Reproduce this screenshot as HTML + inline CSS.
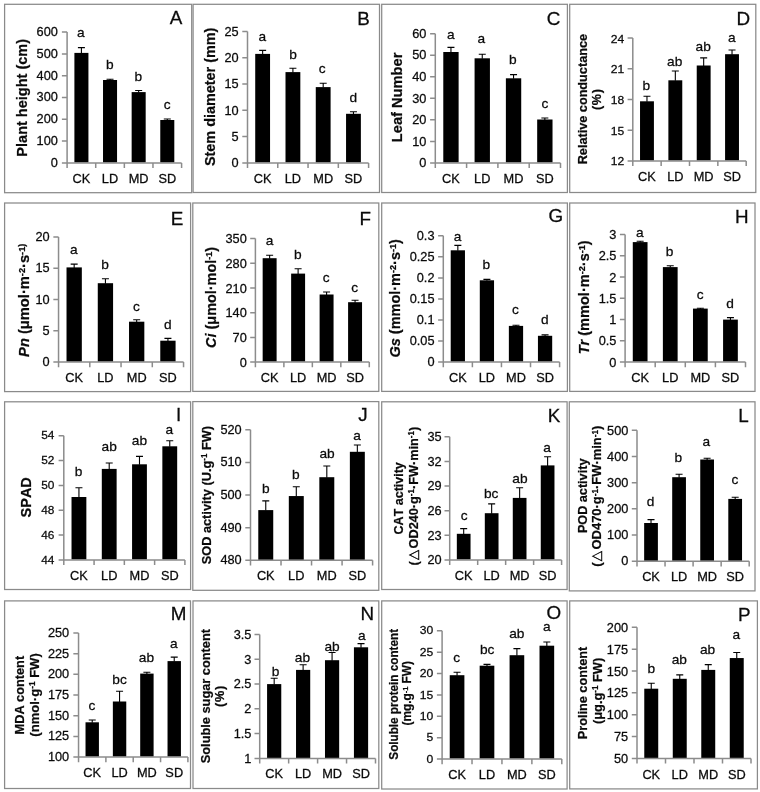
<!DOCTYPE html>
<html lang="en">
<head>
<meta charset="utf-8">
<title>Figure</title>
<style>html,body{margin:0;padding:0;background:#fff}svg{display:block}</style>
</head>
<body>
<svg width="760" height="792" viewBox="0 0 760 792" font-family='"Liberation Sans", "DejaVu Sans", sans-serif' fill="#0a0a0a" style="font-kerning:none">
<rect x="0" y="0" width="760" height="792" fill="#ffffff"/>
<g>
<rect x="4.6" y="4.3" width="187.1" height="188.4" fill="#ffffff" stroke="#8a8a8a" stroke-width="1.25"/>
<rect x="74.4" y="52.9" width="14.03" height="109.6" fill="#000000"/>
<path d="M81.41 53.4V47.6M77.91 47.6H84.91" stroke="#000000" stroke-width="1.1" fill="none"/>
<rect x="103.02" y="80" width="14.03" height="82.5" fill="#000000"/>
<path d="M110.04 80.5V79.3M106.54 79.3H113.54" stroke="#000000" stroke-width="1.1" fill="none"/>
<rect x="131.65" y="92.1" width="14.03" height="70.4" fill="#000000"/>
<path d="M138.66 92.6V90.5M135.16 90.5H142.16" stroke="#000000" stroke-width="1.1" fill="none"/>
<rect x="160.27" y="120" width="14.03" height="42.5" fill="#000000"/>
<path d="M167.29 120.5V119M163.79 119H170.79" stroke="#000000" stroke-width="1.1" fill="none"/>
<path d="M67.1 32.1V168.1M61.9 162.9H181.6M61.9 141.1H67.1M61.9 119.3H67.1M61.9 97.5H67.1M61.9 75.7H67.1M61.9 53.9H67.1M61.9 32.1H67.1M95.72 162.9V168.1M124.35 162.9V168.1M152.97 162.9V168.1M181.6 162.9V168.1" stroke="#8c8c8c" stroke-width="1.5" fill="none"/>
<text transform="translate(57.9 166.76) scale(1.03 1)" text-anchor="end" font-size="12.4" stroke="#0a0a0a" stroke-width="0.25">0</text>
<text transform="translate(57.9 144.96) scale(1.03 1)" text-anchor="end" font-size="12.4" stroke="#0a0a0a" stroke-width="0.25">100</text>
<text transform="translate(57.9 123.16) scale(1.03 1)" text-anchor="end" font-size="12.4" stroke="#0a0a0a" stroke-width="0.25">200</text>
<text transform="translate(57.9 101.36) scale(1.03 1)" text-anchor="end" font-size="12.4" stroke="#0a0a0a" stroke-width="0.25">300</text>
<text transform="translate(57.9 79.56) scale(1.03 1)" text-anchor="end" font-size="12.4" stroke="#0a0a0a" stroke-width="0.25">400</text>
<text transform="translate(57.9 57.76) scale(1.03 1)" text-anchor="end" font-size="12.4" stroke="#0a0a0a" stroke-width="0.25">500</text>
<text transform="translate(57.9 35.96) scale(1.03 1)" text-anchor="end" font-size="12.4" stroke="#0a0a0a" stroke-width="0.25">600</text>
<text transform="translate(81.41 183.2) scale(1.04 1)" text-anchor="middle" font-size="12.3" stroke="#0a0a0a" stroke-width="0.25">CK</text>
<text transform="translate(110.04 183.2) scale(1.04 1)" text-anchor="middle" font-size="12.3" stroke="#0a0a0a" stroke-width="0.25">LD</text>
<text transform="translate(138.66 183.2) scale(1.04 1)" text-anchor="middle" font-size="12.3" stroke="#0a0a0a" stroke-width="0.25">MD</text>
<text transform="translate(167.29 183.2) scale(1.04 1)" text-anchor="middle" font-size="12.3" stroke="#0a0a0a" stroke-width="0.25">SD</text>
<text transform="translate(80.9 36.6) scale(1.03 1)" text-anchor="middle" font-size="13.3" stroke="#0a0a0a" stroke-width="0.25">a</text>
<text transform="translate(109.9 69.3) scale(1.03 1)" text-anchor="middle" font-size="13.3" stroke="#0a0a0a" stroke-width="0.25">b</text>
<text transform="translate(138.2 80.5) scale(1.03 1)" text-anchor="middle" font-size="13.3" stroke="#0a0a0a" stroke-width="0.25">b</text>
<text transform="translate(167.1 108.7) scale(1.03 1)" text-anchor="middle" font-size="13.3" stroke="#0a0a0a" stroke-width="0.25">c</text>
<text transform="translate(176.15 23.9) scale(1.07 1)" text-anchor="middle" font-size="17.6" stroke="#0a0a0a" stroke-width="0.25">A</text>
<text transform="translate(27.3 97.8) rotate(-90) scale(1 1.04)" text-anchor="middle" font-weight="bold" stroke="#0a0a0a" stroke-width="0.22" font-size="14.51" xml:space="preserve"><tspan>Plant height (cm)</tspan></text>
</g>
<g>
<rect x="193.1" y="4.3" width="186.4" height="188.2" fill="#ffffff" stroke="#8a8a8a" stroke-width="1.25"/>
<rect x="255.22" y="53.9" width="14.83" height="108.6" fill="#000000"/>
<path d="M262.64 54.4V50.4M259.14 50.4H266.14" stroke="#000000" stroke-width="1.1" fill="none"/>
<rect x="285.5" y="72.1" width="14.83" height="90.4" fill="#000000"/>
<path d="M292.91 72.6V68.2M289.41 68.2H296.41" stroke="#000000" stroke-width="1.1" fill="none"/>
<rect x="315.77" y="87.1" width="14.83" height="75.4" fill="#000000"/>
<path d="M323.19 87.6V83.3M319.69 83.3H326.69" stroke="#000000" stroke-width="1.1" fill="none"/>
<rect x="346.05" y="113.8" width="14.83" height="48.7" fill="#000000"/>
<path d="M353.46 114.3V111.8M349.96 111.8H356.96" stroke="#000000" stroke-width="1.1" fill="none"/>
<path d="M247.5 31.4V168.1M242.3 162.9H368.6M242.3 136.6H247.5M242.3 110.3H247.5M242.3 84H247.5M242.3 57.7H247.5M242.3 31.4H247.5M277.77 162.9V168.1M308.05 162.9V168.1M338.33 162.9V168.1M368.6 162.9V168.1" stroke="#8c8c8c" stroke-width="1.5" fill="none"/>
<text transform="translate(238.6 167.26) scale(1.03 1)" text-anchor="end" font-size="12.4" stroke="#0a0a0a" stroke-width="0.25">0</text>
<text transform="translate(238.6 140.96) scale(1.03 1)" text-anchor="end" font-size="12.4" stroke="#0a0a0a" stroke-width="0.25">5</text>
<text transform="translate(238.6 114.66) scale(1.03 1)" text-anchor="end" font-size="12.4" stroke="#0a0a0a" stroke-width="0.25">10</text>
<text transform="translate(238.6 88.36) scale(1.03 1)" text-anchor="end" font-size="12.4" stroke="#0a0a0a" stroke-width="0.25">15</text>
<text transform="translate(238.6 62.06) scale(1.03 1)" text-anchor="end" font-size="12.4" stroke="#0a0a0a" stroke-width="0.25">20</text>
<text transform="translate(238.6 35.76) scale(1.03 1)" text-anchor="end" font-size="12.4" stroke="#0a0a0a" stroke-width="0.25">25</text>
<text transform="translate(262.64 183.2) scale(1.04 1)" text-anchor="middle" font-size="12.3" stroke="#0a0a0a" stroke-width="0.25">CK</text>
<text transform="translate(292.91 183.2) scale(1.04 1)" text-anchor="middle" font-size="12.3" stroke="#0a0a0a" stroke-width="0.25">LD</text>
<text transform="translate(323.19 183.2) scale(1.04 1)" text-anchor="middle" font-size="12.3" stroke="#0a0a0a" stroke-width="0.25">MD</text>
<text transform="translate(353.46 183.2) scale(1.04 1)" text-anchor="middle" font-size="12.3" stroke="#0a0a0a" stroke-width="0.25">SD</text>
<text transform="translate(262.4 40.7) scale(1.03 1)" text-anchor="middle" font-size="13.3" stroke="#0a0a0a" stroke-width="0.25">a</text>
<text transform="translate(293 58.8) scale(1.03 1)" text-anchor="middle" font-size="13.3" stroke="#0a0a0a" stroke-width="0.25">b</text>
<text transform="translate(322.2 73.2) scale(1.03 1)" text-anchor="middle" font-size="13.3" stroke="#0a0a0a" stroke-width="0.25">c</text>
<text transform="translate(353.2 101.8) scale(1.03 1)" text-anchor="middle" font-size="13.3" stroke="#0a0a0a" stroke-width="0.25">d</text>
<text transform="translate(363.45 25.3) scale(1.07 1)" text-anchor="middle" font-size="17.6" stroke="#0a0a0a" stroke-width="0.25">B</text>
<text transform="translate(215.3 96.85) rotate(-90) scale(1 1.04)" text-anchor="middle" font-weight="bold" stroke="#0a0a0a" stroke-width="0.22" font-size="14.41" xml:space="preserve"><tspan>Stem diameter (mm)</tspan></text>
</g>
<g>
<rect x="381.7" y="4.3" width="185.7" height="188.2" fill="#ffffff" stroke="#8a8a8a" stroke-width="1.25"/>
<rect x="443.28" y="52" width="15.34" height="110.5" fill="#000000"/>
<path d="M450.95 52.5V47.4M447.45 47.4H454.45" stroke="#000000" stroke-width="1.1" fill="none"/>
<rect x="474.58" y="58.3" width="15.34" height="104.2" fill="#000000"/>
<path d="M482.25 58.8V54.3M478.75 54.3H485.75" stroke="#000000" stroke-width="1.1" fill="none"/>
<rect x="505.88" y="78.3" width="15.34" height="84.2" fill="#000000"/>
<path d="M513.55 78.8V74.6M510.05 74.6H517.05" stroke="#000000" stroke-width="1.1" fill="none"/>
<rect x="537.18" y="119.5" width="15.34" height="43" fill="#000000"/>
<path d="M544.85 120V118M541.35 118H548.35" stroke="#000000" stroke-width="1.1" fill="none"/>
<path d="M435.3 33.8V168.1M430.1 162.9H560.5M430.1 141.38H435.3M430.1 119.87H435.3M430.1 98.35H435.3M430.1 76.83H435.3M430.1 55.32H435.3M430.1 33.8H435.3M466.6 162.9V168.1M497.9 162.9V168.1M529.2 162.9V168.1M560.5 162.9V168.1" stroke="#8c8c8c" stroke-width="1.5" fill="none"/>
<text transform="translate(426.35 167.06) scale(1.03 1)" text-anchor="end" font-size="12.4" stroke="#0a0a0a" stroke-width="0.25">0</text>
<text transform="translate(426.35 145.55) scale(1.03 1)" text-anchor="end" font-size="12.4" stroke="#0a0a0a" stroke-width="0.25">10</text>
<text transform="translate(426.35 124.03) scale(1.03 1)" text-anchor="end" font-size="12.4" stroke="#0a0a0a" stroke-width="0.25">20</text>
<text transform="translate(426.35 102.51) scale(1.03 1)" text-anchor="end" font-size="12.4" stroke="#0a0a0a" stroke-width="0.25">30</text>
<text transform="translate(426.35 81) scale(1.03 1)" text-anchor="end" font-size="12.4" stroke="#0a0a0a" stroke-width="0.25">40</text>
<text transform="translate(426.35 59.48) scale(1.03 1)" text-anchor="end" font-size="12.4" stroke="#0a0a0a" stroke-width="0.25">50</text>
<text transform="translate(426.35 37.96) scale(1.03 1)" text-anchor="end" font-size="12.4" stroke="#0a0a0a" stroke-width="0.25">60</text>
<text transform="translate(450.95 183.2) scale(1.04 1)" text-anchor="middle" font-size="12.3" stroke="#0a0a0a" stroke-width="0.25">CK</text>
<text transform="translate(482.25 183.2) scale(1.04 1)" text-anchor="middle" font-size="12.3" stroke="#0a0a0a" stroke-width="0.25">LD</text>
<text transform="translate(513.55 183.2) scale(1.04 1)" text-anchor="middle" font-size="12.3" stroke="#0a0a0a" stroke-width="0.25">MD</text>
<text transform="translate(544.85 183.2) scale(1.04 1)" text-anchor="middle" font-size="12.3" stroke="#0a0a0a" stroke-width="0.25">SD</text>
<text transform="translate(450.7 38.6) scale(1.03 1)" text-anchor="middle" font-size="13.3" stroke="#0a0a0a" stroke-width="0.25">a</text>
<text transform="translate(481.3 43) scale(1.03 1)" text-anchor="middle" font-size="13.3" stroke="#0a0a0a" stroke-width="0.25">a</text>
<text transform="translate(512.9 63.8) scale(1.03 1)" text-anchor="middle" font-size="13.3" stroke="#0a0a0a" stroke-width="0.25">b</text>
<text transform="translate(544.9 107.8) scale(1.03 1)" text-anchor="middle" font-size="13.3" stroke="#0a0a0a" stroke-width="0.25">c</text>
<text transform="translate(553.55 24.7) scale(1.07 1)" text-anchor="middle" font-size="17.6" stroke="#0a0a0a" stroke-width="0.25">C</text>
<text transform="translate(402.4 97.4) rotate(-90) scale(1 1.04)" text-anchor="middle" font-weight="bold" stroke="#0a0a0a" stroke-width="0.22" font-size="14.66" xml:space="preserve"><tspan>Leaf Number</tspan></text>
</g>
<g>
<rect x="569.7" y="4.3" width="186.1" height="188.2" fill="#ffffff" stroke="#8a8a8a" stroke-width="1.25"/>
<rect x="640.03" y="101.3" width="13.89" height="59.2" fill="#000000"/>
<path d="M646.97 101.8V96.3M643.47 96.3H650.47" stroke="#000000" stroke-width="1.1" fill="none"/>
<rect x="668.38" y="80.3" width="13.89" height="80.2" fill="#000000"/>
<path d="M675.33 80.8V71.05M671.83 71.05H678.83" stroke="#000000" stroke-width="1.1" fill="none"/>
<rect x="696.73" y="65.5" width="13.89" height="95" fill="#000000"/>
<path d="M703.67 66V57.9M700.17 57.9H707.17" stroke="#000000" stroke-width="1.1" fill="none"/>
<rect x="725.08" y="54.2" width="13.89" height="106.3" fill="#000000"/>
<path d="M732.03 54.7V50M728.53 50H735.53" stroke="#000000" stroke-width="1.1" fill="none"/>
<path d="M632.8 38.1V166.1M627.6 160.9H746.2M627.6 130.2H632.8M627.6 99.5H632.8M627.6 68.8H632.8M627.6 38.1H632.8M661.15 160.9V166.1M689.5 160.9V166.1M717.85 160.9V166.1M746.2 160.9V166.1" stroke="#8c8c8c" stroke-width="1.5" fill="none"/>
<text transform="translate(624.2 165.34) scale(1.03 1)" text-anchor="end" font-size="11.78" stroke="#0a0a0a" stroke-width="0.25">12</text>
<text transform="translate(624.2 134.64) scale(1.03 1)" text-anchor="end" font-size="11.78" stroke="#0a0a0a" stroke-width="0.25">15</text>
<text transform="translate(624.2 103.94) scale(1.03 1)" text-anchor="end" font-size="11.78" stroke="#0a0a0a" stroke-width="0.25">18</text>
<text transform="translate(624.2 73.24) scale(1.03 1)" text-anchor="end" font-size="11.78" stroke="#0a0a0a" stroke-width="0.25">21</text>
<text transform="translate(624.2 42.54) scale(1.03 1)" text-anchor="end" font-size="11.78" stroke="#0a0a0a" stroke-width="0.25">24</text>
<text transform="translate(646.97 181.3) scale(1.04 1)" text-anchor="middle" font-size="12.3" stroke="#0a0a0a" stroke-width="0.25">CK</text>
<text transform="translate(675.33 181.3) scale(1.04 1)" text-anchor="middle" font-size="12.3" stroke="#0a0a0a" stroke-width="0.25">LD</text>
<text transform="translate(703.67 181.3) scale(1.04 1)" text-anchor="middle" font-size="12.3" stroke="#0a0a0a" stroke-width="0.25">MD</text>
<text transform="translate(732.03 181.3) scale(1.04 1)" text-anchor="middle" font-size="12.3" stroke="#0a0a0a" stroke-width="0.25">SD</text>
<text transform="translate(646.3 89.7) scale(1.03 1)" text-anchor="middle" font-size="13.3" stroke="#0a0a0a" stroke-width="0.25">b</text>
<text transform="translate(674.7 65.6) scale(1.03 1)" text-anchor="middle" font-size="13.3" stroke="#0a0a0a" stroke-width="0.25">ab</text>
<text transform="translate(703.2 51.25) scale(1.03 1)" text-anchor="middle" font-size="13.3" stroke="#0a0a0a" stroke-width="0.25">ab</text>
<text transform="translate(731.7 42.3) scale(1.03 1)" text-anchor="middle" font-size="13.3" stroke="#0a0a0a" stroke-width="0.25">a</text>
<text transform="translate(743.35 25) scale(1.07 1)" text-anchor="middle" font-size="17.6" stroke="#0a0a0a" stroke-width="0.25">D</text>
<text transform="translate(586.7 99.15) rotate(-90) scale(1 1.04)" text-anchor="middle" font-weight="bold" stroke="#0a0a0a" stroke-width="0.22" font-size="12.7" xml:space="preserve"><tspan>Relative conductance</tspan></text>
<text transform="translate(601 99.2) rotate(-90) scale(1 1.04)" text-anchor="middle" font-weight="bold" stroke="#0a0a0a" stroke-width="0.22" font-size="12.6" letter-spacing="0.75" xml:space="preserve"><tspan>(%)</tspan></text>
</g>
<g>
<rect x="4.6" y="203" width="186" height="188.6" fill="#ffffff" stroke="#8a8a8a" stroke-width="1.25"/>
<rect x="66.52" y="267.4" width="15.31" height="94.3" fill="#000000"/>
<path d="M74.17 267.9V264.1M70.67 264.1H77.67" stroke="#000000" stroke-width="1.1" fill="none"/>
<rect x="97.77" y="283.2" width="15.31" height="78.5" fill="#000000"/>
<path d="M105.43 283.7V278.8M101.93 278.8H108.93" stroke="#000000" stroke-width="1.1" fill="none"/>
<rect x="129.02" y="321.7" width="15.31" height="40" fill="#000000"/>
<path d="M136.68 322.2V319.7M133.18 319.7H140.18" stroke="#000000" stroke-width="1.1" fill="none"/>
<rect x="160.27" y="340.7" width="15.31" height="21" fill="#000000"/>
<path d="M167.93 341.2V338.4M164.43 338.4H171.43" stroke="#000000" stroke-width="1.1" fill="none"/>
<path d="M58.55 236.9V367.3M53.35 362.1H183.55M53.35 330.8H58.55M53.35 299.5H58.55M53.35 268.2H58.55M53.35 236.9H58.55M89.8 362.1V367.3M121.05 362.1V367.3M152.3 362.1V367.3M183.55 362.1V367.3" stroke="#8c8c8c" stroke-width="1.5" fill="none"/>
<text transform="translate(49.6 366.16) scale(1.03 1)" text-anchor="end" font-size="12.4" stroke="#0a0a0a" stroke-width="0.25">0</text>
<text transform="translate(49.6 334.86) scale(1.03 1)" text-anchor="end" font-size="12.4" stroke="#0a0a0a" stroke-width="0.25">5</text>
<text transform="translate(49.6 303.56) scale(1.03 1)" text-anchor="end" font-size="12.4" stroke="#0a0a0a" stroke-width="0.25">10</text>
<text transform="translate(49.6 272.26) scale(1.03 1)" text-anchor="end" font-size="12.4" stroke="#0a0a0a" stroke-width="0.25">15</text>
<text transform="translate(49.6 240.96) scale(1.03 1)" text-anchor="end" font-size="12.4" stroke="#0a0a0a" stroke-width="0.25">20</text>
<text transform="translate(74.17 381.8) scale(1.04 1)" text-anchor="middle" font-size="12.3" stroke="#0a0a0a" stroke-width="0.25">CK</text>
<text transform="translate(105.43 381.8) scale(1.04 1)" text-anchor="middle" font-size="12.3" stroke="#0a0a0a" stroke-width="0.25">LD</text>
<text transform="translate(136.68 381.8) scale(1.04 1)" text-anchor="middle" font-size="12.3" stroke="#0a0a0a" stroke-width="0.25">MD</text>
<text transform="translate(167.93 381.8) scale(1.04 1)" text-anchor="middle" font-size="12.3" stroke="#0a0a0a" stroke-width="0.25">SD</text>
<text transform="translate(73.7 253.5) scale(1.03 1)" text-anchor="middle" font-size="13.3" stroke="#0a0a0a" stroke-width="0.25">a</text>
<text transform="translate(105 268.5) scale(1.03 1)" text-anchor="middle" font-size="13.3" stroke="#0a0a0a" stroke-width="0.25">b</text>
<text transform="translate(136.4 310.7) scale(1.03 1)" text-anchor="middle" font-size="13.3" stroke="#0a0a0a" stroke-width="0.25">c</text>
<text transform="translate(167.8 328.8) scale(1.03 1)" text-anchor="middle" font-size="13.3" stroke="#0a0a0a" stroke-width="0.25">d</text>
<text transform="translate(177.15 225.3) scale(1.07 1)" text-anchor="middle" font-size="17.6" stroke="#0a0a0a" stroke-width="0.25">E</text>
<text transform="translate(28.5 300.25) rotate(-90) scale(1 1.04)" text-anchor="middle" font-weight="bold" stroke="#0a0a0a" stroke-width="0.22" font-size="14.69" xml:space="preserve"><tspan font-style="italic">Pn</tspan><tspan> (μmol·m</tspan><tspan font-size="9.25" dy="-2.94">-2</tspan><tspan dy="2.94">·s</tspan><tspan font-size="9.25" dy="-2.94">-1)</tspan></text>
</g>
<g>
<rect x="192.8" y="203" width="186" height="188.4" fill="#ffffff" stroke="#8a8a8a" stroke-width="1.25"/>
<rect x="262.66" y="258.2" width="13.95" height="103.5" fill="#000000"/>
<path d="M269.64 258.7V255.3M266.14 255.3H273.14" stroke="#000000" stroke-width="1.1" fill="none"/>
<rect x="291.14" y="273.6" width="13.95" height="88.1" fill="#000000"/>
<path d="M298.11 274.1V268.7M294.61 268.7H301.61" stroke="#000000" stroke-width="1.1" fill="none"/>
<rect x="319.61" y="294.5" width="13.95" height="67.2" fill="#000000"/>
<path d="M326.59 295V292M323.09 292H330.09" stroke="#000000" stroke-width="1.1" fill="none"/>
<rect x="348.09" y="302.2" width="13.95" height="59.5" fill="#000000"/>
<path d="M355.06 302.7V300.3M351.56 300.3H358.56" stroke="#000000" stroke-width="1.1" fill="none"/>
<path d="M255.4 238.5V367.3M250.2 362.1H369.3M250.2 337.38H255.4M250.2 312.66H255.4M250.2 287.94H255.4M250.2 263.22H255.4M250.2 238.5H255.4M283.88 362.1V367.3M312.35 362.1V367.3M340.83 362.1V367.3M369.3 362.1V367.3" stroke="#8c8c8c" stroke-width="1.5" fill="none"/>
<text transform="translate(246.8 366.86) scale(1.03 1)" text-anchor="end" font-size="12.4" stroke="#0a0a0a" stroke-width="0.25">0</text>
<text transform="translate(246.8 342.14) scale(1.03 1)" text-anchor="end" font-size="12.4" stroke="#0a0a0a" stroke-width="0.25">70</text>
<text transform="translate(246.8 317.42) scale(1.03 1)" text-anchor="end" font-size="12.4" stroke="#0a0a0a" stroke-width="0.25">140</text>
<text transform="translate(246.8 292.7) scale(1.03 1)" text-anchor="end" font-size="12.4" stroke="#0a0a0a" stroke-width="0.25">210</text>
<text transform="translate(246.8 267.98) scale(1.03 1)" text-anchor="end" font-size="12.4" stroke="#0a0a0a" stroke-width="0.25">280</text>
<text transform="translate(246.8 243.26) scale(1.03 1)" text-anchor="end" font-size="12.4" stroke="#0a0a0a" stroke-width="0.25">350</text>
<text transform="translate(269.64 381.8) scale(1.04 1)" text-anchor="middle" font-size="12.3" stroke="#0a0a0a" stroke-width="0.25">CK</text>
<text transform="translate(298.11 381.8) scale(1.04 1)" text-anchor="middle" font-size="12.3" stroke="#0a0a0a" stroke-width="0.25">LD</text>
<text transform="translate(326.59 381.8) scale(1.04 1)" text-anchor="middle" font-size="12.3" stroke="#0a0a0a" stroke-width="0.25">MD</text>
<text transform="translate(355.06 381.8) scale(1.04 1)" text-anchor="middle" font-size="12.3" stroke="#0a0a0a" stroke-width="0.25">SD</text>
<text transform="translate(269.6 244.8) scale(1.03 1)" text-anchor="middle" font-size="13.3" stroke="#0a0a0a" stroke-width="0.25">a</text>
<text transform="translate(297.9 259) scale(1.03 1)" text-anchor="middle" font-size="13.3" stroke="#0a0a0a" stroke-width="0.25">b</text>
<text transform="translate(326.2 281.6) scale(1.03 1)" text-anchor="middle" font-size="13.3" stroke="#0a0a0a" stroke-width="0.25">c</text>
<text transform="translate(354.7 291.6) scale(1.03 1)" text-anchor="middle" font-size="13.3" stroke="#0a0a0a" stroke-width="0.25">c</text>
<text transform="translate(365.15 224.6) scale(1.07 1)" text-anchor="middle" font-size="17.6" stroke="#0a0a0a" stroke-width="0.25">F</text>
<text transform="translate(215.7 297.4) rotate(-90) scale(1 1.04)" text-anchor="middle" font-weight="bold" stroke="#0a0a0a" stroke-width="0.22" font-size="14.43" xml:space="preserve"><tspan font-style="italic">Ci</tspan><tspan> (μmol·mol</tspan><tspan font-size="9.09" dy="-3.9">-1</tspan><tspan dy="3.9">)</tspan></text>
</g>
<g>
<rect x="381.7" y="203" width="185.7" height="188.4" fill="#ffffff" stroke="#8a8a8a" stroke-width="1.25"/>
<rect x="450.71" y="250.3" width="14.25" height="111.4" fill="#000000"/>
<path d="M457.84 250.8V245.4M454.34 245.4H461.34" stroke="#000000" stroke-width="1.1" fill="none"/>
<rect x="479.79" y="280.3" width="14.25" height="81.4" fill="#000000"/>
<path d="M486.91 280.8V279.4M483.41 279.4H490.41" stroke="#000000" stroke-width="1.1" fill="none"/>
<rect x="508.86" y="325.9" width="14.25" height="35.8" fill="#000000"/>
<path d="M515.99 326.4V325.3M512.49 325.3H519.49" stroke="#000000" stroke-width="1.1" fill="none"/>
<rect x="537.94" y="335.8" width="14.25" height="25.9" fill="#000000"/>
<path d="M545.06 336.3V334.9M541.56 334.9H548.56" stroke="#000000" stroke-width="1.1" fill="none"/>
<path d="M443.3 235.8V367.3M438.1 362.1H559.6M438.1 341.05H443.3M438.1 320H443.3M438.1 298.95H443.3M438.1 277.9H443.3M438.1 256.85H443.3M438.1 235.8H443.3M472.38 362.1V367.3M501.45 362.1V367.3M530.52 362.1V367.3M559.6 362.1V367.3" stroke="#8c8c8c" stroke-width="1.5" fill="none"/>
<text transform="translate(434.5 366.26) scale(1.03 1)" text-anchor="end" font-size="12.4" stroke="#0a0a0a" stroke-width="0.25">0</text>
<text transform="translate(434.5 345.21) scale(1.03 1)" text-anchor="end" font-size="12.4" stroke="#0a0a0a" stroke-width="0.25">0.05</text>
<text transform="translate(434.5 324.16) scale(1.03 1)" text-anchor="end" font-size="12.4" stroke="#0a0a0a" stroke-width="0.25">0.1</text>
<text transform="translate(434.5 303.11) scale(1.03 1)" text-anchor="end" font-size="12.4" stroke="#0a0a0a" stroke-width="0.25">0.15</text>
<text transform="translate(434.5 282.06) scale(1.03 1)" text-anchor="end" font-size="12.4" stroke="#0a0a0a" stroke-width="0.25">0.2</text>
<text transform="translate(434.5 261.01) scale(1.03 1)" text-anchor="end" font-size="12.4" stroke="#0a0a0a" stroke-width="0.25">0.25</text>
<text transform="translate(434.5 239.96) scale(1.03 1)" text-anchor="end" font-size="12.4" stroke="#0a0a0a" stroke-width="0.25">0.3</text>
<text transform="translate(457.84 381.8) scale(1.04 1)" text-anchor="middle" font-size="12.3" stroke="#0a0a0a" stroke-width="0.25">CK</text>
<text transform="translate(486.91 381.8) scale(1.04 1)" text-anchor="middle" font-size="12.3" stroke="#0a0a0a" stroke-width="0.25">LD</text>
<text transform="translate(515.99 381.8) scale(1.04 1)" text-anchor="middle" font-size="12.3" stroke="#0a0a0a" stroke-width="0.25">MD</text>
<text transform="translate(545.06 381.8) scale(1.04 1)" text-anchor="middle" font-size="12.3" stroke="#0a0a0a" stroke-width="0.25">SD</text>
<text transform="translate(457.6 240.6) scale(1.03 1)" text-anchor="middle" font-size="13.3" stroke="#0a0a0a" stroke-width="0.25">a</text>
<text transform="translate(486.2 268.9) scale(1.03 1)" text-anchor="middle" font-size="13.3" stroke="#0a0a0a" stroke-width="0.25">b</text>
<text transform="translate(515.5 313.6) scale(1.03 1)" text-anchor="middle" font-size="13.3" stroke="#0a0a0a" stroke-width="0.25">c</text>
<text transform="translate(544.7 323.5) scale(1.03 1)" text-anchor="middle" font-size="13.3" stroke="#0a0a0a" stroke-width="0.25">d</text>
<text transform="translate(555.75 222.4) scale(1.07 1)" text-anchor="middle" font-size="17.6" stroke="#0a0a0a" stroke-width="0.25">G</text>
<text transform="translate(400.4 298.3) rotate(-90) scale(1 1.04)" text-anchor="middle" font-weight="bold" stroke="#0a0a0a" stroke-width="0.22" font-size="14.5" xml:space="preserve"><tspan font-style="italic">Gs</tspan><tspan> (mmol·m</tspan><tspan font-size="9.14" dy="-3.92">-2</tspan><tspan dy="3.92">·s</tspan><tspan font-size="9.14" dy="-3.92">-1</tspan><tspan dy="3.92">)</tspan></text>
</g>
<g>
<rect x="569.7" y="203" width="185.3" height="188.4" fill="#ffffff" stroke="#8a8a8a" stroke-width="1.25"/>
<rect x="632.78" y="242.1" width="14.75" height="119.6" fill="#000000"/>
<path d="M640.15 242.6V241.3M636.65 241.3H643.65" stroke="#000000" stroke-width="1.1" fill="none"/>
<rect x="662.88" y="267.1" width="14.75" height="94.6" fill="#000000"/>
<path d="M670.25 267.6V265.8M666.75 265.8H673.75" stroke="#000000" stroke-width="1.1" fill="none"/>
<rect x="692.98" y="308.6" width="14.75" height="53.1" fill="#000000"/>
<path d="M700.35 309.1V308.2M696.85 308.2H703.85" stroke="#000000" stroke-width="1.1" fill="none"/>
<rect x="723.08" y="319.6" width="14.75" height="42.1" fill="#000000"/>
<path d="M730.45 320.1V317.6M726.95 317.6H733.95" stroke="#000000" stroke-width="1.1" fill="none"/>
<path d="M625.1 234.5V367.3M619.9 362.1H745.5M619.9 340.83H625.1M619.9 319.57H625.1M619.9 298.3H625.1M619.9 277.03H625.1M619.9 255.77H625.1M619.9 234.5H625.1M655.2 362.1V367.3M685.3 362.1V367.3M715.4 362.1V367.3M745.5 362.1V367.3" stroke="#8c8c8c" stroke-width="1.5" fill="none"/>
<text transform="translate(616.4 366.66) scale(1.03 1)" text-anchor="end" font-size="12.4" stroke="#0a0a0a" stroke-width="0.25">0</text>
<text transform="translate(616.4 345.4) scale(1.03 1)" text-anchor="end" font-size="12.4" stroke="#0a0a0a" stroke-width="0.25">0.5</text>
<text transform="translate(616.4 324.13) scale(1.03 1)" text-anchor="end" font-size="12.4" stroke="#0a0a0a" stroke-width="0.25">1</text>
<text transform="translate(616.4 302.86) scale(1.03 1)" text-anchor="end" font-size="12.4" stroke="#0a0a0a" stroke-width="0.25">1.5</text>
<text transform="translate(616.4 281.6) scale(1.03 1)" text-anchor="end" font-size="12.4" stroke="#0a0a0a" stroke-width="0.25">2</text>
<text transform="translate(616.4 260.33) scale(1.03 1)" text-anchor="end" font-size="12.4" stroke="#0a0a0a" stroke-width="0.25">2.5</text>
<text transform="translate(616.4 239.06) scale(1.03 1)" text-anchor="end" font-size="12.4" stroke="#0a0a0a" stroke-width="0.25">3</text>
<text transform="translate(640.15 381.8) scale(1.04 1)" text-anchor="middle" font-size="12.3" stroke="#0a0a0a" stroke-width="0.25">CK</text>
<text transform="translate(670.25 381.8) scale(1.04 1)" text-anchor="middle" font-size="12.3" stroke="#0a0a0a" stroke-width="0.25">LD</text>
<text transform="translate(700.35 381.8) scale(1.04 1)" text-anchor="middle" font-size="12.3" stroke="#0a0a0a" stroke-width="0.25">MD</text>
<text transform="translate(730.45 381.8) scale(1.04 1)" text-anchor="middle" font-size="12.3" stroke="#0a0a0a" stroke-width="0.25">SD</text>
<text transform="translate(639.7 237.3) scale(1.03 1)" text-anchor="middle" font-size="13.3" stroke="#0a0a0a" stroke-width="0.25">a</text>
<text transform="translate(669.6 256.1) scale(1.03 1)" text-anchor="middle" font-size="13.3" stroke="#0a0a0a" stroke-width="0.25">b</text>
<text transform="translate(700.1 298.8) scale(1.03 1)" text-anchor="middle" font-size="13.3" stroke="#0a0a0a" stroke-width="0.25">c</text>
<text transform="translate(730 307.7) scale(1.03 1)" text-anchor="middle" font-size="13.3" stroke="#0a0a0a" stroke-width="0.25">d</text>
<text transform="translate(741.75 223) scale(1.07 1)" text-anchor="middle" font-size="17.6" stroke="#0a0a0a" stroke-width="0.25">H</text>
<text transform="translate(589.3 297.3) rotate(-90) scale(1 1.04)" text-anchor="middle" font-weight="bold" stroke="#0a0a0a" stroke-width="0.22" font-size="14.55" xml:space="preserve"><tspan font-style="italic">Tr</tspan><tspan> (mmol·m</tspan><tspan font-size="9.16" dy="-3.93">-2</tspan><tspan dy="3.93">·s</tspan><tspan font-size="9.16" dy="-3.93">-1</tspan><tspan dy="3.93">)</tspan></text>
</g>
<g>
<rect x="4.6" y="401.8" width="186" height="187.7" fill="#ffffff" stroke="#8a8a8a" stroke-width="1.25"/>
<rect x="71.52" y="497" width="14.83" height="62.5" fill="#000000"/>
<path d="M78.94 497.5V487.8M75.44 487.8H82.44" stroke="#000000" stroke-width="1.1" fill="none"/>
<rect x="101.8" y="468.9" width="14.83" height="90.6" fill="#000000"/>
<path d="M109.21 469.4V463M105.71 463H112.71" stroke="#000000" stroke-width="1.1" fill="none"/>
<rect x="132.07" y="464.3" width="14.83" height="95.2" fill="#000000"/>
<path d="M139.49 464.8V456.4M135.99 456.4H142.99" stroke="#000000" stroke-width="1.1" fill="none"/>
<rect x="162.35" y="446.3" width="14.83" height="113.2" fill="#000000"/>
<path d="M169.76 446.8V440.7M166.26 440.7H173.26" stroke="#000000" stroke-width="1.1" fill="none"/>
<path d="M63.8 435.7V565.1M58.6 559.9H184.9M58.6 535.06H63.8M58.6 510.22H63.8M58.6 485.38H63.8M58.6 460.54H63.8M58.6 435.7H63.8M94.08 559.9V565.1M124.35 559.9V565.1M154.62 559.9V565.1M184.9 559.9V565.1" stroke="#8c8c8c" stroke-width="1.5" fill="none"/>
<text transform="translate(54.45 563.6) scale(1.03 1)" text-anchor="end" font-size="11.53" stroke="#0a0a0a" stroke-width="0.25">44</text>
<text transform="translate(54.45 538.76) scale(1.03 1)" text-anchor="end" font-size="11.53" stroke="#0a0a0a" stroke-width="0.25">46</text>
<text transform="translate(54.45 513.92) scale(1.03 1)" text-anchor="end" font-size="11.53" stroke="#0a0a0a" stroke-width="0.25">48</text>
<text transform="translate(54.45 489.08) scale(1.03 1)" text-anchor="end" font-size="11.53" stroke="#0a0a0a" stroke-width="0.25">50</text>
<text transform="translate(54.45 464.24) scale(1.03 1)" text-anchor="end" font-size="11.53" stroke="#0a0a0a" stroke-width="0.25">52</text>
<text transform="translate(54.45 439.4) scale(1.03 1)" text-anchor="end" font-size="11.53" stroke="#0a0a0a" stroke-width="0.25">54</text>
<text transform="translate(78.94 579.9) scale(1.04 1)" text-anchor="middle" font-size="12.3" stroke="#0a0a0a" stroke-width="0.25">CK</text>
<text transform="translate(109.21 579.9) scale(1.04 1)" text-anchor="middle" font-size="12.3" stroke="#0a0a0a" stroke-width="0.25">LD</text>
<text transform="translate(139.49 579.9) scale(1.04 1)" text-anchor="middle" font-size="12.3" stroke="#0a0a0a" stroke-width="0.25">MD</text>
<text transform="translate(169.76 579.9) scale(1.04 1)" text-anchor="middle" font-size="12.3" stroke="#0a0a0a" stroke-width="0.25">SD</text>
<text transform="translate(78.6 476.1) scale(1.03 1)" text-anchor="middle" font-size="13.3" stroke="#0a0a0a" stroke-width="0.25">b</text>
<text transform="translate(109.2 451.4) scale(1.03 1)" text-anchor="middle" font-size="13.3" stroke="#0a0a0a" stroke-width="0.25">ab</text>
<text transform="translate(139.5 444.5) scale(1.03 1)" text-anchor="middle" font-size="13.3" stroke="#0a0a0a" stroke-width="0.25">ab</text>
<text transform="translate(169.3 434) scale(1.03 1)" text-anchor="middle" font-size="13.3" stroke="#0a0a0a" stroke-width="0.25">a</text>
<text transform="translate(178.6 421.3) scale(1.07 1)" text-anchor="middle" font-size="17.6" stroke="#0a0a0a" stroke-width="0.25">I</text>
<text transform="translate(31.3 497.3) rotate(-90) scale(1 1.04)" text-anchor="middle" font-weight="bold" stroke="#0a0a0a" stroke-width="0.22" font-size="14.49" xml:space="preserve"><tspan>SPAD</tspan></text>
</g>
<g>
<rect x="192.8" y="401.6" width="186" height="188.7" fill="#ffffff" stroke="#8a8a8a" stroke-width="1.25"/>
<rect x="258.28" y="510.1" width="14.96" height="49.8" fill="#000000"/>
<path d="M265.76 510.6V500.9M262.26 500.9H269.26" stroke="#000000" stroke-width="1.1" fill="none"/>
<rect x="288.81" y="496.05" width="14.96" height="63.85" fill="#000000"/>
<path d="M296.29 496.55V486.7M292.79 486.7H299.79" stroke="#000000" stroke-width="1.1" fill="none"/>
<rect x="319.33" y="477.2" width="14.96" height="82.7" fill="#000000"/>
<path d="M326.81 477.7V466.05M323.31 466.05H330.31" stroke="#000000" stroke-width="1.1" fill="none"/>
<rect x="349.86" y="451.8" width="14.96" height="108.1" fill="#000000"/>
<path d="M357.34 452.3V445M353.84 445H360.84" stroke="#000000" stroke-width="1.1" fill="none"/>
<path d="M250.5 429.8V565.5M245.3 560.3H372.6M245.3 527.67H250.5M245.3 495.05H250.5M245.3 462.43H250.5M245.3 429.8H250.5M281.02 560.3V565.5M311.55 560.3V565.5M342.08 560.3V565.5M372.6 560.3V565.5" stroke="#8c8c8c" stroke-width="1.5" fill="none"/>
<text transform="translate(241.7 564.36) scale(1.03 1)" text-anchor="end" font-size="12.4" stroke="#0a0a0a" stroke-width="0.25">480</text>
<text transform="translate(241.7 531.74) scale(1.03 1)" text-anchor="end" font-size="12.4" stroke="#0a0a0a" stroke-width="0.25">490</text>
<text transform="translate(241.7 499.11) scale(1.03 1)" text-anchor="end" font-size="12.4" stroke="#0a0a0a" stroke-width="0.25">500</text>
<text transform="translate(241.7 466.49) scale(1.03 1)" text-anchor="end" font-size="12.4" stroke="#0a0a0a" stroke-width="0.25">510</text>
<text transform="translate(241.7 433.86) scale(1.03 1)" text-anchor="end" font-size="12.4" stroke="#0a0a0a" stroke-width="0.25">520</text>
<text transform="translate(265.76 580.2) scale(1.04 1)" text-anchor="middle" font-size="12.3" stroke="#0a0a0a" stroke-width="0.25">CK</text>
<text transform="translate(296.29 580.2) scale(1.04 1)" text-anchor="middle" font-size="12.3" stroke="#0a0a0a" stroke-width="0.25">LD</text>
<text transform="translate(326.81 580.2) scale(1.04 1)" text-anchor="middle" font-size="12.3" stroke="#0a0a0a" stroke-width="0.25">MD</text>
<text transform="translate(357.34 580.2) scale(1.04 1)" text-anchor="middle" font-size="12.3" stroke="#0a0a0a" stroke-width="0.25">SD</text>
<text transform="translate(265.7 493.2) scale(1.03 1)" text-anchor="middle" font-size="13.3" stroke="#0a0a0a" stroke-width="0.25">b</text>
<text transform="translate(295.9 479.4) scale(1.03 1)" text-anchor="middle" font-size="13.3" stroke="#0a0a0a" stroke-width="0.25">b</text>
<text transform="translate(327.1 458.4) scale(1.03 1)" text-anchor="middle" font-size="13.3" stroke="#0a0a0a" stroke-width="0.25">ab</text>
<text transform="translate(357.1 440.3) scale(1.03 1)" text-anchor="middle" font-size="13.3" stroke="#0a0a0a" stroke-width="0.25">a</text>
<text transform="translate(362.85 420.7) scale(1.07 1)" text-anchor="middle" font-size="17.6" stroke="#0a0a0a" stroke-width="0.25">J</text>
<text transform="translate(211.05 495.15) rotate(-90) scale(1 1.04)" text-anchor="middle" font-weight="bold" stroke="#0a0a0a" stroke-width="0.22" font-size="12.77" xml:space="preserve"><tspan>SOD activity (U.g</tspan><tspan font-size="8.04" dy="-3.45">-1</tspan><tspan dy="3.45"> FW)</tspan></text>
</g>
<g>
<rect x="381.7" y="401.8" width="185.4" height="187.7" fill="#ffffff" stroke="#8a8a8a" stroke-width="1.25"/>
<rect x="456.83" y="533.8" width="13.71" height="25.7" fill="#000000"/>
<path d="M463.69 534.3V528.6M460.19 528.6H467.19" stroke="#000000" stroke-width="1.1" fill="none"/>
<rect x="484.81" y="513.2" width="13.71" height="46.3" fill="#000000"/>
<path d="M491.66 513.7V503.9M488.16 503.9H495.16" stroke="#000000" stroke-width="1.1" fill="none"/>
<rect x="512.78" y="497.9" width="13.71" height="61.6" fill="#000000"/>
<path d="M519.64 498.4V487.8M516.14 487.8H523.14" stroke="#000000" stroke-width="1.1" fill="none"/>
<rect x="540.76" y="465.4" width="13.71" height="94.1" fill="#000000"/>
<path d="M547.61 465.9V456.8M544.11 456.8H551.11" stroke="#000000" stroke-width="1.1" fill="none"/>
<path d="M449.7 436.85V565.1M444.5 559.9H561.6M444.5 535.29H449.7M444.5 510.68H449.7M444.5 486.07H449.7M444.5 461.46H449.7M444.5 436.85H449.7M477.68 559.9V565.1M505.65 559.9V565.1M533.62 559.9V565.1M561.6 559.9V565.1" stroke="#8c8c8c" stroke-width="1.5" fill="none"/>
<text transform="translate(441.6 564.26) scale(1.03 1)" text-anchor="end" font-size="12.4" stroke="#0a0a0a" stroke-width="0.25">20</text>
<text transform="translate(441.6 539.65) scale(1.03 1)" text-anchor="end" font-size="12.4" stroke="#0a0a0a" stroke-width="0.25">23</text>
<text transform="translate(441.6 515.04) scale(1.03 1)" text-anchor="end" font-size="12.4" stroke="#0a0a0a" stroke-width="0.25">26</text>
<text transform="translate(441.6 490.43) scale(1.03 1)" text-anchor="end" font-size="12.4" stroke="#0a0a0a" stroke-width="0.25">29</text>
<text transform="translate(441.6 465.82) scale(1.03 1)" text-anchor="end" font-size="12.4" stroke="#0a0a0a" stroke-width="0.25">32</text>
<text transform="translate(441.6 441.21) scale(1.03 1)" text-anchor="end" font-size="12.4" stroke="#0a0a0a" stroke-width="0.25">35</text>
<text transform="translate(463.69 579.9) scale(1.04 1)" text-anchor="middle" font-size="12.3" stroke="#0a0a0a" stroke-width="0.25">CK</text>
<text transform="translate(491.66 579.9) scale(1.04 1)" text-anchor="middle" font-size="12.3" stroke="#0a0a0a" stroke-width="0.25">LD</text>
<text transform="translate(519.64 579.9) scale(1.04 1)" text-anchor="middle" font-size="12.3" stroke="#0a0a0a" stroke-width="0.25">MD</text>
<text transform="translate(547.61 579.9) scale(1.04 1)" text-anchor="middle" font-size="12.3" stroke="#0a0a0a" stroke-width="0.25">SD</text>
<text transform="translate(464.2 519.8) scale(1.03 1)" text-anchor="middle" font-size="13.3" stroke="#0a0a0a" stroke-width="0.25">c</text>
<text transform="translate(491.2 498.4) scale(1.03 1)" text-anchor="middle" font-size="13.3" stroke="#0a0a0a" stroke-width="0.25">bc</text>
<text transform="translate(519.9 482.7) scale(1.03 1)" text-anchor="middle" font-size="13.3" stroke="#0a0a0a" stroke-width="0.25">ab</text>
<text transform="translate(547.1 451.5) scale(1.03 1)" text-anchor="middle" font-size="13.3" stroke="#0a0a0a" stroke-width="0.25">a</text>
<text transform="translate(554.15 421.7) scale(1.07 1)" text-anchor="middle" font-size="17.6" stroke="#0a0a0a" stroke-width="0.25">K</text>
<text transform="translate(403.2 498.3) rotate(-90) scale(1 1.04)" text-anchor="middle" font-weight="bold" stroke="#0a0a0a" stroke-width="0.22" font-size="12.5" xml:space="preserve"><tspan>CAT activity</tspan></text>
<text transform="translate(418 496.1) rotate(-90) scale(1 1.04)" text-anchor="middle" font-weight="bold" stroke="#0a0a0a" stroke-width="0.22" font-size="12.73" xml:space="preserve"><tspan>(</tspan><tspan font-family='"Noto Sans CJK SC", "DejaVu Sans", sans-serif' font-weight="bold" stroke="#0a0a0a" stroke-width="0.45" font-size="10.56" dx="1.02" letter-spacing="1.15" dy="0.6">△</tspan><tspan dy="-0.6">OD240·g</tspan><tspan font-size="8.02" dy="-3.44">-1</tspan><tspan dy="3.44">·FW·min</tspan><tspan font-size="8.02" dy="-3.44">-1</tspan><tspan dy="3.44">)</tspan></text>
</g>
<g>
<rect x="569.3" y="401.8" width="185.7" height="189.1" fill="#ffffff" stroke="#8a8a8a" stroke-width="1.25"/>
<rect x="644.15" y="523" width="13.74" height="37.8" fill="#000000"/>
<path d="M651.02 523.5V519.6M647.52 519.6H654.52" stroke="#000000" stroke-width="1.1" fill="none"/>
<rect x="672.2" y="477.2" width="13.74" height="83.6" fill="#000000"/>
<path d="M679.08 477.7V474.3M675.58 474.3H682.58" stroke="#000000" stroke-width="1.1" fill="none"/>
<rect x="700.25" y="459.5" width="13.74" height="101.3" fill="#000000"/>
<path d="M707.12 460V458.2M703.62 458.2H710.62" stroke="#000000" stroke-width="1.1" fill="none"/>
<rect x="728.3" y="498.9" width="13.74" height="61.9" fill="#000000"/>
<path d="M735.18 499.4V497.2M731.68 497.2H738.68" stroke="#000000" stroke-width="1.1" fill="none"/>
<path d="M637 430.35V566.4M631.8 561.2H749.2M631.8 535.03H637M631.8 508.86H637M631.8 482.69H637M631.8 456.52H637M631.8 430.35H637M665.05 561.2V566.4M693.1 561.2V566.4M721.15 561.2V566.4M749.2 561.2V566.4" stroke="#8c8c8c" stroke-width="1.5" fill="none"/>
<text transform="translate(628.4 565.36) scale(1.03 1)" text-anchor="end" font-size="12.4" stroke="#0a0a0a" stroke-width="0.25">0</text>
<text transform="translate(628.4 539.19) scale(1.03 1)" text-anchor="end" font-size="12.4" stroke="#0a0a0a" stroke-width="0.25">100</text>
<text transform="translate(628.4 513.02) scale(1.03 1)" text-anchor="end" font-size="12.4" stroke="#0a0a0a" stroke-width="0.25">200</text>
<text transform="translate(628.4 486.85) scale(1.03 1)" text-anchor="end" font-size="12.4" stroke="#0a0a0a" stroke-width="0.25">300</text>
<text transform="translate(628.4 460.68) scale(1.03 1)" text-anchor="end" font-size="12.4" stroke="#0a0a0a" stroke-width="0.25">400</text>
<text transform="translate(628.4 434.51) scale(1.03 1)" text-anchor="end" font-size="12.4" stroke="#0a0a0a" stroke-width="0.25">500</text>
<text transform="translate(651.02 580.6) scale(1.04 1)" text-anchor="middle" font-size="12.3" stroke="#0a0a0a" stroke-width="0.25">CK</text>
<text transform="translate(679.08 580.6) scale(1.04 1)" text-anchor="middle" font-size="12.3" stroke="#0a0a0a" stroke-width="0.25">LD</text>
<text transform="translate(707.12 580.6) scale(1.04 1)" text-anchor="middle" font-size="12.3" stroke="#0a0a0a" stroke-width="0.25">MD</text>
<text transform="translate(735.18 580.6) scale(1.04 1)" text-anchor="middle" font-size="12.3" stroke="#0a0a0a" stroke-width="0.25">SD</text>
<text transform="translate(650.5 505.5) scale(1.03 1)" text-anchor="middle" font-size="13.3" stroke="#0a0a0a" stroke-width="0.25">d</text>
<text transform="translate(678.2 462.3) scale(1.03 1)" text-anchor="middle" font-size="13.3" stroke="#0a0a0a" stroke-width="0.25">b</text>
<text transform="translate(706.4 446.25) scale(1.03 1)" text-anchor="middle" font-size="13.3" stroke="#0a0a0a" stroke-width="0.25">a</text>
<text transform="translate(735 484.4) scale(1.03 1)" text-anchor="middle" font-size="13.3" stroke="#0a0a0a" stroke-width="0.25">c</text>
<text transform="translate(743.6 422.4) scale(1.07 1)" text-anchor="middle" font-size="17.6" stroke="#0a0a0a" stroke-width="0.25">L</text>
<text transform="translate(586.5 495.85) rotate(-90) scale(1 1.04)" text-anchor="middle" font-weight="bold" stroke="#0a0a0a" stroke-width="0.22" font-size="12.66" xml:space="preserve"><tspan>POD activity</tspan></text>
<text transform="translate(601.3 496.2) rotate(-90) scale(1 1.04)" text-anchor="middle" font-weight="bold" stroke="#0a0a0a" stroke-width="0.22" font-size="12.95" xml:space="preserve"><tspan>(</tspan><tspan font-family='"Noto Sans CJK SC", "DejaVu Sans", sans-serif' font-weight="bold" stroke="#0a0a0a" stroke-width="0.45" font-size="10.75" dx="1.04" letter-spacing="1.17" dy="0.6">△</tspan><tspan dy="-0.6">OD470·g</tspan><tspan font-size="8.16" dy="-3.5">-1</tspan><tspan dy="3.5">·FW·min</tspan><tspan font-size="8.16" dy="-3.5">-1</tspan><tspan dy="3.5">)</tspan></text>
</g>
<g>
<rect x="4.6" y="600.9" width="185.9" height="187.6" fill="#ffffff" stroke="#8a8a8a" stroke-width="1.25"/>
<rect x="85.52" y="722.3" width="13.4" height="34.4" fill="#000000"/>
<path d="M92.22 722.8V720M88.72 720H95.72" stroke="#000000" stroke-width="1.1" fill="none"/>
<rect x="112.86" y="701.5" width="13.4" height="55.2" fill="#000000"/>
<path d="M119.56 702V691.3M116.06 691.3H123.06" stroke="#000000" stroke-width="1.1" fill="none"/>
<rect x="140.2" y="673.6" width="13.4" height="83.1" fill="#000000"/>
<path d="M146.89 674.1V672.3M143.39 672.3H150.39" stroke="#000000" stroke-width="1.1" fill="none"/>
<rect x="167.53" y="661.1" width="13.4" height="95.6" fill="#000000"/>
<path d="M174.23 661.6V657.1M170.73 657.1H177.73" stroke="#000000" stroke-width="1.1" fill="none"/>
<path d="M78.55 632.95V762.3M73.35 757.1H187.9M73.35 736.41H78.55M73.35 715.72H78.55M73.35 695.03H78.55M73.35 674.33H78.55M73.35 653.64H78.55M73.35 632.95H78.55M105.89 757.1V762.3M133.22 757.1V762.3M160.56 757.1V762.3M187.9 757.1V762.3" stroke="#8c8c8c" stroke-width="1.5" fill="none"/>
<text transform="translate(69.2 761.06) scale(1.03 1)" text-anchor="end" font-size="12.4" stroke="#0a0a0a" stroke-width="0.25">100</text>
<text transform="translate(69.2 740.37) scale(1.03 1)" text-anchor="end" font-size="12.4" stroke="#0a0a0a" stroke-width="0.25">125</text>
<text transform="translate(69.2 719.68) scale(1.03 1)" text-anchor="end" font-size="12.4" stroke="#0a0a0a" stroke-width="0.25">150</text>
<text transform="translate(69.2 698.99) scale(1.03 1)" text-anchor="end" font-size="12.4" stroke="#0a0a0a" stroke-width="0.25">175</text>
<text transform="translate(69.2 678.3) scale(1.03 1)" text-anchor="end" font-size="12.4" stroke="#0a0a0a" stroke-width="0.25">200</text>
<text transform="translate(69.2 657.61) scale(1.03 1)" text-anchor="end" font-size="12.4" stroke="#0a0a0a" stroke-width="0.25">225</text>
<text transform="translate(69.2 636.91) scale(1.03 1)" text-anchor="end" font-size="12.4" stroke="#0a0a0a" stroke-width="0.25">250</text>
<text transform="translate(92.22 777.1) scale(1.04 1)" text-anchor="middle" font-size="12.3" stroke="#0a0a0a" stroke-width="0.25">CK</text>
<text transform="translate(119.56 777.1) scale(1.04 1)" text-anchor="middle" font-size="12.3" stroke="#0a0a0a" stroke-width="0.25">LD</text>
<text transform="translate(146.89 777.1) scale(1.04 1)" text-anchor="middle" font-size="12.3" stroke="#0a0a0a" stroke-width="0.25">MD</text>
<text transform="translate(174.23 777.1) scale(1.04 1)" text-anchor="middle" font-size="12.3" stroke="#0a0a0a" stroke-width="0.25">SD</text>
<text transform="translate(91.8 709.7) scale(1.03 1)" text-anchor="middle" font-size="13.3" stroke="#0a0a0a" stroke-width="0.25">c</text>
<text transform="translate(119.5 684.3) scale(1.03 1)" text-anchor="middle" font-size="13.3" stroke="#0a0a0a" stroke-width="0.25">bc</text>
<text transform="translate(146.4 661.9) scale(1.03 1)" text-anchor="middle" font-size="13.3" stroke="#0a0a0a" stroke-width="0.25">ab</text>
<text transform="translate(173.7 648.1) scale(1.03 1)" text-anchor="middle" font-size="13.3" stroke="#0a0a0a" stroke-width="0.25">a</text>
<text transform="translate(178.7 619.9) scale(1.07 1)" text-anchor="middle" font-size="17.6" stroke="#0a0a0a" stroke-width="0.25">M</text>
<text transform="translate(24.1 695.15) rotate(-90) scale(1 1.04)" text-anchor="middle" font-weight="bold" stroke="#0a0a0a" stroke-width="0.22" font-size="12.75" xml:space="preserve"><tspan>MDA content</tspan></text>
<text transform="translate(38.8 694.95) rotate(-90) scale(1 1.04)" text-anchor="middle" font-weight="bold" stroke="#0a0a0a" stroke-width="0.22" font-size="13.08" xml:space="preserve"><tspan>(nmol·g</tspan><tspan font-size="8.24" dy="-3.53">-1</tspan><tspan dy="3.53"> FW)</tspan></text>
</g>
<g>
<rect x="193" y="600.9" width="185.8" height="187.6" fill="#ffffff" stroke="#8a8a8a" stroke-width="1.25"/>
<rect x="267.08" y="684.1" width="14.19" height="73.9" fill="#000000"/>
<path d="M274.18 684.6V678.2M270.68 678.2H277.68" stroke="#000000" stroke-width="1.1" fill="none"/>
<rect x="296.03" y="669.9" width="14.19" height="88.1" fill="#000000"/>
<path d="M303.12 670.4V664.8M299.62 664.8H306.62" stroke="#000000" stroke-width="1.1" fill="none"/>
<rect x="324.98" y="660.2" width="14.19" height="97.8" fill="#000000"/>
<path d="M332.07 660.7V652.5M328.57 652.5H335.57" stroke="#000000" stroke-width="1.1" fill="none"/>
<rect x="353.93" y="647.3" width="14.19" height="110.7" fill="#000000"/>
<path d="M361.02 647.8V643.6M357.52 643.6H364.52" stroke="#000000" stroke-width="1.1" fill="none"/>
<path d="M259.7 634.4V763.6M254.5 758.4H375.5M254.5 733.6H259.7M254.5 708.8H259.7M254.5 684H259.7M254.5 659.2H259.7M254.5 634.4H259.7M288.65 758.4V763.6M317.6 758.4V763.6M346.55 758.4V763.6M375.5 758.4V763.6" stroke="#8c8c8c" stroke-width="1.5" fill="none"/>
<text transform="translate(251.4 762.86) scale(1.03 1)" text-anchor="end" font-size="12.4" stroke="#0a0a0a" stroke-width="0.25">1</text>
<text transform="translate(251.4 738.06) scale(1.03 1)" text-anchor="end" font-size="12.4" stroke="#0a0a0a" stroke-width="0.25">1.5</text>
<text transform="translate(251.4 713.26) scale(1.03 1)" text-anchor="end" font-size="12.4" stroke="#0a0a0a" stroke-width="0.25">2</text>
<text transform="translate(251.4 688.46) scale(1.03 1)" text-anchor="end" font-size="12.4" stroke="#0a0a0a" stroke-width="0.25">2.5</text>
<text transform="translate(251.4 663.66) scale(1.03 1)" text-anchor="end" font-size="12.4" stroke="#0a0a0a" stroke-width="0.25">3</text>
<text transform="translate(251.4 638.86) scale(1.03 1)" text-anchor="end" font-size="12.4" stroke="#0a0a0a" stroke-width="0.25">3.5</text>
<text transform="translate(274.18 778.2) scale(1.04 1)" text-anchor="middle" font-size="12.3" stroke="#0a0a0a" stroke-width="0.25">CK</text>
<text transform="translate(303.12 778.2) scale(1.04 1)" text-anchor="middle" font-size="12.3" stroke="#0a0a0a" stroke-width="0.25">LD</text>
<text transform="translate(332.07 778.2) scale(1.04 1)" text-anchor="middle" font-size="12.3" stroke="#0a0a0a" stroke-width="0.25">MD</text>
<text transform="translate(361.02 778.2) scale(1.04 1)" text-anchor="middle" font-size="12.3" stroke="#0a0a0a" stroke-width="0.25">SD</text>
<text transform="translate(275.5 676.4) scale(1.03 1)" text-anchor="middle" font-size="13.3" stroke="#0a0a0a" stroke-width="0.25">b</text>
<text transform="translate(302.5 661.9) scale(1.03 1)" text-anchor="middle" font-size="13.3" stroke="#0a0a0a" stroke-width="0.25">ab</text>
<text transform="translate(332.1 650.5) scale(1.03 1)" text-anchor="middle" font-size="13.3" stroke="#0a0a0a" stroke-width="0.25">ab</text>
<text transform="translate(361.7 639.8) scale(1.03 1)" text-anchor="middle" font-size="13.3" stroke="#0a0a0a" stroke-width="0.25">a</text>
<text transform="translate(367.3 620) scale(1.07 1)" text-anchor="middle" font-size="17.6" stroke="#0a0a0a" stroke-width="0.25">N</text>
<text transform="translate(210.3 696.1) rotate(-90) scale(1 1.04)" text-anchor="middle" font-weight="bold" stroke="#0a0a0a" stroke-width="0.22" font-size="12.81" xml:space="preserve"><tspan>Soluble sugar content</tspan></text>
<text transform="translate(224.4 696) rotate(-90) scale(1 1.04)" text-anchor="middle" font-weight="bold" stroke="#0a0a0a" stroke-width="0.22" font-size="12.7" letter-spacing="0.7" xml:space="preserve"><tspan>(%)</tspan></text>
</g>
<g>
<rect x="381.7" y="600.9" width="185.4" height="188.1" fill="#ffffff" stroke="#8a8a8a" stroke-width="1.25"/>
<rect x="449.73" y="675.2" width="14.66" height="83.5" fill="#000000"/>
<path d="M457.06 675.7V672.3M453.56 672.3H460.56" stroke="#000000" stroke-width="1.1" fill="none"/>
<rect x="479.66" y="665.7" width="14.66" height="93" fill="#000000"/>
<path d="M486.99 666.2V664.4M483.49 664.4H490.49" stroke="#000000" stroke-width="1.1" fill="none"/>
<rect x="509.58" y="655.2" width="14.66" height="103.5" fill="#000000"/>
<path d="M516.91 655.7V648.6M513.41 648.6H520.41" stroke="#000000" stroke-width="1.1" fill="none"/>
<rect x="539.51" y="645.7" width="14.66" height="113" fill="#000000"/>
<path d="M546.84 646.2V642M543.34 642H550.34" stroke="#000000" stroke-width="1.1" fill="none"/>
<path d="M442.1 630.75V764.3M436.9 759.1H561.8M436.9 737.71H442.1M436.9 716.32H442.1M436.9 694.92H442.1M436.9 673.53H442.1M436.9 652.14H442.1M436.9 630.75H442.1M472.02 759.1V764.3M501.95 759.1V764.3M531.88 759.1V764.3M561.8 759.1V764.3" stroke="#8c8c8c" stroke-width="1.5" fill="none"/>
<text transform="translate(433.15 762.74) scale(1.03 1)" text-anchor="end" font-size="11.78" stroke="#0a0a0a" stroke-width="0.25">0</text>
<text transform="translate(433.15 741.35) scale(1.03 1)" text-anchor="end" font-size="11.78" stroke="#0a0a0a" stroke-width="0.25">5</text>
<text transform="translate(433.15 719.96) scale(1.03 1)" text-anchor="end" font-size="11.78" stroke="#0a0a0a" stroke-width="0.25">10</text>
<text transform="translate(433.15 698.57) scale(1.03 1)" text-anchor="end" font-size="11.78" stroke="#0a0a0a" stroke-width="0.25">15</text>
<text transform="translate(433.15 677.17) scale(1.03 1)" text-anchor="end" font-size="11.78" stroke="#0a0a0a" stroke-width="0.25">20</text>
<text transform="translate(433.15 655.78) scale(1.03 1)" text-anchor="end" font-size="11.78" stroke="#0a0a0a" stroke-width="0.25">25</text>
<text transform="translate(433.15 634.39) scale(1.03 1)" text-anchor="end" font-size="11.78" stroke="#0a0a0a" stroke-width="0.25">30</text>
<text transform="translate(457.06 778.8) scale(1.04 1)" text-anchor="middle" font-size="12.3" stroke="#0a0a0a" stroke-width="0.25">CK</text>
<text transform="translate(486.99 778.8) scale(1.04 1)" text-anchor="middle" font-size="12.3" stroke="#0a0a0a" stroke-width="0.25">LD</text>
<text transform="translate(516.91 778.8) scale(1.04 1)" text-anchor="middle" font-size="12.3" stroke="#0a0a0a" stroke-width="0.25">MD</text>
<text transform="translate(546.84 778.8) scale(1.04 1)" text-anchor="middle" font-size="12.3" stroke="#0a0a0a" stroke-width="0.25">SD</text>
<text transform="translate(456.7 661.5) scale(1.03 1)" text-anchor="middle" font-size="13.3" stroke="#0a0a0a" stroke-width="0.25">c</text>
<text transform="translate(487.2 654) scale(1.03 1)" text-anchor="middle" font-size="13.3" stroke="#0a0a0a" stroke-width="0.25">bc</text>
<text transform="translate(516.8 638.25) scale(1.03 1)" text-anchor="middle" font-size="13.3" stroke="#0a0a0a" stroke-width="0.25">ab</text>
<text transform="translate(546.7 631.4) scale(1.03 1)" text-anchor="middle" font-size="13.3" stroke="#0a0a0a" stroke-width="0.25">a</text>
<text transform="translate(553.7 619) scale(1.07 1)" text-anchor="middle" font-size="17.6" stroke="#0a0a0a" stroke-width="0.25">O</text>
<text transform="translate(397.6 694.3) rotate(-90) scale(1 1.04)" text-anchor="middle" font-weight="bold" stroke="#0a0a0a" stroke-width="0.22" font-size="11.71" xml:space="preserve"><tspan>Soluble protein content</tspan></text>
<text transform="translate(411.2 693.3) rotate(-90) scale(1 1.04)" text-anchor="middle" font-weight="bold" stroke="#0a0a0a" stroke-width="0.22" font-size="11.82" xml:space="preserve"><tspan>(mg.g</tspan><tspan font-size="7.45" dy="-3.19">-1</tspan><tspan dy="3.19"> FW)</tspan></text>
</g>
<g>
<rect x="569.7" y="600.9" width="187.7" height="188" fill="#ffffff" stroke="#8a8a8a" stroke-width="1.25"/>
<rect x="644.27" y="688.7" width="13.96" height="69.3" fill="#000000"/>
<path d="M651.25 689.2V683.2M647.75 683.2H654.75" stroke="#000000" stroke-width="1.1" fill="none"/>
<rect x="672.77" y="678.8" width="13.96" height="79.2" fill="#000000"/>
<path d="M679.75 679.3V674.9M676.25 674.9H683.25" stroke="#000000" stroke-width="1.1" fill="none"/>
<rect x="701.27" y="669.9" width="13.96" height="88.1" fill="#000000"/>
<path d="M708.25 670.4V664.6M704.75 664.6H711.75" stroke="#000000" stroke-width="1.1" fill="none"/>
<rect x="729.77" y="658.05" width="13.96" height="99.95" fill="#000000"/>
<path d="M736.75 658.55V652.5M733.25 652.5H740.25" stroke="#000000" stroke-width="1.1" fill="none"/>
<path d="M637 627.3V763.6M631.8 758.4H751M631.8 736.55H637M631.8 714.7H637M631.8 692.85H637M631.8 671H637M631.8 649.15H637M631.8 627.3H637M665.5 758.4V763.6M694 758.4V763.6M722.5 758.4V763.6M751 758.4V763.6" stroke="#8c8c8c" stroke-width="1.5" fill="none"/>
<text transform="translate(628.1 762.96) scale(1.03 1)" text-anchor="end" font-size="12.4" stroke="#0a0a0a" stroke-width="0.25">50</text>
<text transform="translate(628.1 741.11) scale(1.03 1)" text-anchor="end" font-size="12.4" stroke="#0a0a0a" stroke-width="0.25">75</text>
<text transform="translate(628.1 719.26) scale(1.03 1)" text-anchor="end" font-size="12.4" stroke="#0a0a0a" stroke-width="0.25">100</text>
<text transform="translate(628.1 697.41) scale(1.03 1)" text-anchor="end" font-size="12.4" stroke="#0a0a0a" stroke-width="0.25">125</text>
<text transform="translate(628.1 675.56) scale(1.03 1)" text-anchor="end" font-size="12.4" stroke="#0a0a0a" stroke-width="0.25">150</text>
<text transform="translate(628.1 653.71) scale(1.03 1)" text-anchor="end" font-size="12.4" stroke="#0a0a0a" stroke-width="0.25">175</text>
<text transform="translate(628.1 631.86) scale(1.03 1)" text-anchor="end" font-size="12.4" stroke="#0a0a0a" stroke-width="0.25">200</text>
<text transform="translate(651.25 778.8) scale(1.04 1)" text-anchor="middle" font-size="12.3" stroke="#0a0a0a" stroke-width="0.25">CK</text>
<text transform="translate(679.75 778.8) scale(1.04 1)" text-anchor="middle" font-size="12.3" stroke="#0a0a0a" stroke-width="0.25">LD</text>
<text transform="translate(708.25 778.8) scale(1.04 1)" text-anchor="middle" font-size="12.3" stroke="#0a0a0a" stroke-width="0.25">MD</text>
<text transform="translate(736.75 778.8) scale(1.04 1)" text-anchor="middle" font-size="12.3" stroke="#0a0a0a" stroke-width="0.25">SD</text>
<text transform="translate(651.2 672.5) scale(1.03 1)" text-anchor="middle" font-size="13.3" stroke="#0a0a0a" stroke-width="0.25">b</text>
<text transform="translate(679.3 663.9) scale(1.03 1)" text-anchor="middle" font-size="13.3" stroke="#0a0a0a" stroke-width="0.25">ab</text>
<text transform="translate(707.6 653.6) scale(1.03 1)" text-anchor="middle" font-size="13.3" stroke="#0a0a0a" stroke-width="0.25">ab</text>
<text transform="translate(736.3 638.9) scale(1.03 1)" text-anchor="middle" font-size="13.3" stroke="#0a0a0a" stroke-width="0.25">a</text>
<text transform="translate(744.2 620.9) scale(1.07 1)" text-anchor="middle" font-size="17.6" stroke="#0a0a0a" stroke-width="0.25">P</text>
<text transform="translate(586.7 693) rotate(-90) scale(1 1.04)" text-anchor="middle" font-weight="bold" stroke="#0a0a0a" stroke-width="0.22" font-size="12.74" xml:space="preserve"><tspan>Proline content</tspan></text>
<text transform="translate(601.5 690.9) rotate(-90) scale(1 1.04)" text-anchor="middle" font-weight="bold" stroke="#0a0a0a" stroke-width="0.22" font-size="12.82" xml:space="preserve"><tspan>(μg.g</tspan><tspan font-size="8.08" dy="-3.46">-1</tspan><tspan dy="3.46"> FW)</tspan></text>
</g>
</svg>
</body>
</html>
